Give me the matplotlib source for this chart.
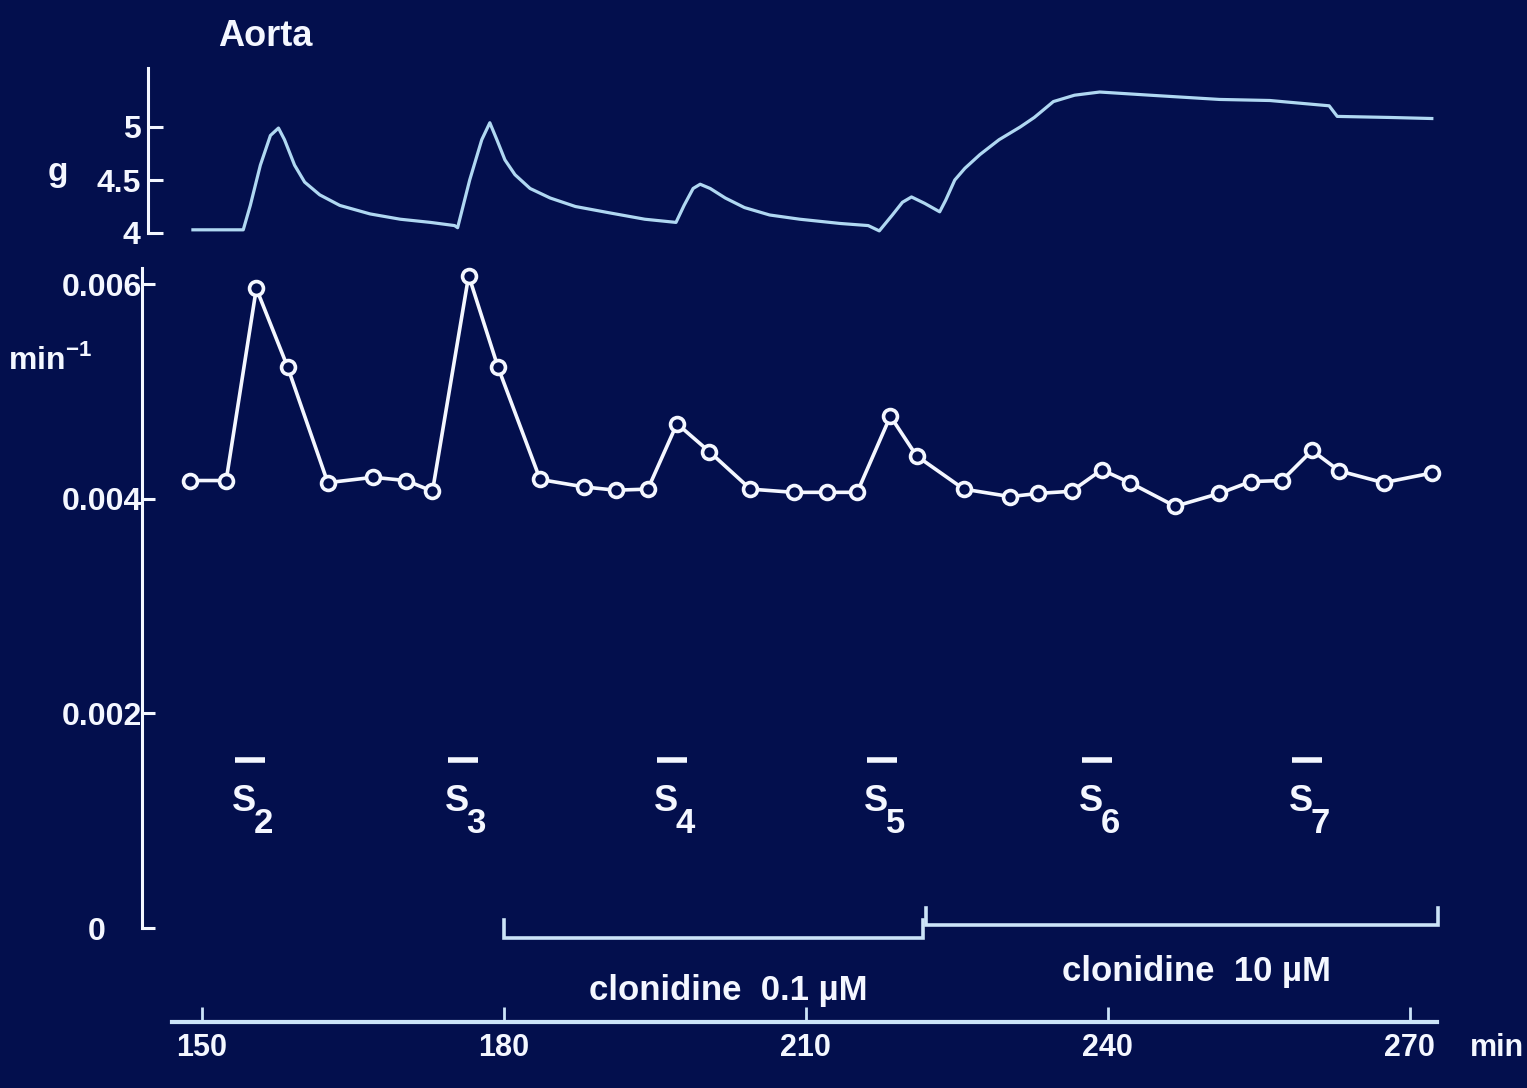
import matplotlib
matplotlib.use('Agg')
import matplotlib.pyplot as plt
from matplotlib import font_manager
import matplotlib.transforms as mtrans

# ---------------- data ----------------
# isometric tension trace (g) vs time (min)
tension_time = [149.1, 154.1, 154.8, 155.8, 156.8, 157.6, 158.2, 159.2, 160.2, 161.7,
                163.7, 166.7, 169.7, 172.7, 175.1, 175.4, 176.6, 177.8, 178.6, 179.3,
                180.1, 181.1, 182.6, 184.6, 187.1, 190.5, 194.0, 197.1, 197.9, 198.8,
                199.5, 200.5, 202.0, 203.9, 206.4, 209.4, 213.4, 216.2, 217.3, 218.6,
                219.6, 220.5, 221.8, 223.3, 223.9, 224.8, 225.8, 227.3, 229.2, 231.3,
                232.7, 234.6, 236.7, 239.2, 244.2, 251.1, 256.1, 262.0, 262.8, 268.0,
                272.2]
tension_g = [4.03, 4.03, 4.26, 4.64, 4.92, 4.99, 4.88, 4.64, 4.48, 4.36,
             4.26, 4.18, 4.13, 4.10, 4.07, 4.05, 4.50, 4.88, 5.04, 4.88,
             4.69, 4.55, 4.42, 4.33, 4.25, 4.19, 4.13, 4.10, 4.26, 4.42,
             4.46, 4.42, 4.33, 4.24, 4.17, 4.13, 4.09, 4.07, 4.02, 4.17,
             4.29, 4.34, 4.28, 4.20, 4.31, 4.50, 4.61, 4.74, 4.88, 5.00,
             5.09, 5.24, 5.30, 5.33, 5.30, 5.26, 5.25, 5.20, 5.10, 5.09,
             5.08]

# fractional efflux rate (min^-1) vs time (min)
rate_time = [148.8, 152.4, 155.4, 158.5, 162.5, 167.0, 170.3, 172.9, 176.5, 179.4,
             183.6, 188.0, 191.1, 194.3, 197.2, 200.4, 204.5, 208.8, 212.1, 215.1,
             218.4, 221.0, 225.7, 230.3, 233.1, 236.4, 239.4, 242.2, 246.7, 251.1,
             254.2, 257.3, 260.3, 263.0, 267.4, 272.2]
rate_value = [0.00417, 0.00417, 0.00596, 0.00523, 0.00415, 0.00420, 0.00417, 0.00407, 0.00608, 0.00523,
              0.00418, 0.00411, 0.00408, 0.00409, 0.00470, 0.00444, 0.00409, 0.00406, 0.00406, 0.00406,
              0.00477, 0.00440, 0.00409, 0.00402, 0.00405, 0.00407, 0.00427, 0.00415, 0.00393, 0.00405,
              0.00416, 0.00417, 0.00445, 0.00426, 0.00415, 0.00424]

stim_labels = ['2', '3', '4', '5', '6', '7']
stim_time = [154.8, 175.9, 196.7, 217.6, 238.9, 259.8]

clonidine_labels = ['clonidine  0.1 µM', 'clonidine  10 µM']
clonidine_start = [180.0, 221.9]
clonidine_end = [221.6, 272.8]

time_ticks = [150, 180, 210, 240, 270]
time_ticklabels = ['150', '180', '210', '240', '270']
rate_ticks = [0, 0.002, 0.004, 0.006]
rate_ticklabels = ['0', '0.002', '0.004', '0.006']
g_ticks = [4, 4.5, 5]
g_ticklabels = ['4', '4.5', '5']

# ---------------- style ----------------
BG = '#030f4d'
FG = '#f4f7ff'
TRACE = '#b0d8f2'
AXIS = '#cce4f8'

names = {f.name for f in font_manager.fontManager.ttflist}
FONT = 'Liberation Sans' if 'Liberation Sans' in names else 'DejaVu Sans'
plt.rcParams['font.family'] = [FONT, 'DejaVu Sans']
plt.rcParams['font.weight'] = 'bold'
plt.rcParams['mathtext.fontset'] = 'custom'
plt.rcParams['mathtext.rm'] = FONT + ':bold'
plt.rcParams['mathtext.bf'] = FONT + ':bold'

W, H = 1527, 1088
fig = plt.figure(figsize=(W / 100, H / 100), dpi=100, facecolor=BG)

XL = (144, 275)
ax_left = 141.6 / W
ax_w = (1460 - 141.6) / W

# ---------------- rate panel ----------------
ax = fig.add_axes([ax_left, (H - 928) / H, ax_w, 665.3 / H])
ax.set_facecolor('none')
ax.set_xlim(*XL)
ax.set_ylim(0, 0.0062)

ax.plot(rate_time, rate_value, color=FG, lw=2.6, marker='o', ms=10,
        mfc=BG, mec=FG, mew=2.6, zorder=3, clip_on=False)

for s in ['top', 'right']:
    ax.spines[s].set_visible(False)
ax.spines['left'].set_bounds(0, 0.00615)
ax.spines['left'].set_color(FG)
ax.spines['left'].set_linewidth(2.2)
ax.spines['bottom'].set_position(('outward', 94 * 0.72))
ax.spines['bottom'].set_bounds(147.0, 272.7)
ax.spines['bottom'].set_color(AXIS)
ax.spines['bottom'].set_linewidth(3.0)

ax.set_yticks(rate_ticks)
ax.set_yticklabels(rate_ticklabels)
ax.tick_params(axis='y', direction='in', length=9, width=2.2, colors=FG,
               labelsize=23, pad=0)
zero_lbl = ax.get_yticklabels()[0]
zero_lbl.set_transform(zero_lbl.get_transform() +
                       mtrans.ScaledTranslation(-0.36, 0, fig.dpi_scale_trans))
ax.set_xticks(time_ticks)
ax.set_xticklabels(time_ticklabels)
ax.tick_params(axis='x', direction='in', length=11, width=2.0, colors=AXIS,
               labelcolor=FG, labelsize=22, pad=8)

ax.annotate('min', xy=(278.7, 0), xycoords=('data', 'axes fraction'),
            xytext=(0, -94 * 0.72 - 8), textcoords='offset points',
            ha='center', va='top', fontsize=22, color=FG, fontweight='bold',
            annotation_clip=False)

# stimulation bars and labels
for lab, t in zip(stim_labels, stim_time):
    ax.hlines(0.00157, t - 1.5, t + 1.5, color=FG, lw=4)
    ax.text(t - 0.6, 0.00118, 'S', ha='center', va='center', fontsize=26,
            color=FG, fontweight='bold')
    ax.annotate(lab, xy=(t - 0.6, 0.00118), xytext=(14, -16),
                textcoords='offset points', ha='center', va='center',
                fontsize=25, color=FG, fontweight='bold')

# clonidine brackets
levels = [-0.00009, 0.00003]
label_y = [-0.00058, -0.00041]
for lab, s, e, lv, ly in zip(clonidine_labels, clonidine_start, clonidine_end,
                             levels, label_y):
    ax.plot([s, s, e, e], [lv + 0.00016, lv, lv, lv + 0.00016], color=AXIS,
            lw=2.6, clip_on=False, solid_joinstyle='miter')
    ax.text((s + e) / 2 + 1.5, ly, lab, ha='center', va='center', fontsize=25,
            color=FG, fontweight='bold')

# ---------------- tension panel ----------------
ax2 = fig.add_axes([ax_left, (H - 243.6) / H, ax_w, 180.2 / H])
ax2.set_facecolor('none')
ax2.set_xlim(*XL)
ax2.set_ylim(3.9, 5.6)
ax2.plot(tension_time, tension_g, color=TRACE, lw=2.3, solid_joinstyle='round')
for s in ['top', 'right', 'bottom']:
    ax2.spines[s].set_visible(False)
ax2.spines['left'].set_position(('outward', -4.3))
ax2.spines['left'].set_bounds(4, 5.56)
ax2.spines['left'].set_color(FG)
ax2.spines['left'].set_linewidth(2.2)
ax2.set_xticks([])
ax2.set_yticks(g_ticks)
ax2.set_yticklabels(g_ticklabels)
ax2.tick_params(axis='y', direction='in', length=11, width=2.2, colors=FG,
                labelsize=23, pad=5)

# ---------------- labels ----------------
fig.text(265 / W, 1 - 36 / H, 'Aorta', ha='center', va='center', fontsize=26,
         color=FG, fontweight='bold')
fig.text(58 / W, 1 - 173 / H, 'g', ha='center', va='center', fontsize=24,
         color=FG, fontweight='bold')
fig.text(50 / W, 1 - 360 / H, 'min$^{-1}$', ha='center', va='center',
         fontsize=23, color=FG, fontweight='bold')

fig.savefig('out.png', dpi=100, facecolor=BG)
